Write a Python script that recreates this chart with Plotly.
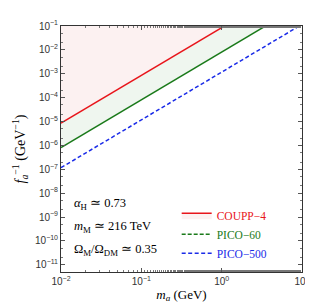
import plotly.graph_objects as go

# ---- data ----
m_a = [0.01, 10.0]                 # GeV
coupp4 = [8.5e-6, 8.5]             # f_a^-1 (GeV^-1)
pico60 = [8.1e-7, 0.81]
pico500 = [1.17e-7, 0.117]
top_edge = [10.0, 10.0]

x_tickvals = [1e-2, 1e-1, 1e0, 1e1]
x_ticktext = ["10<sup>−2</sup>", "10<sup>−1</sup>", "10<sup>0</sup>", "10<sup>1</sup>"]
y_exps = list(range(-11, 0))
y_tickvals = [10.0 ** e for e in y_exps]
y_ticktext = ["10<sup>−%d</sup>" % (-e) for e in y_exps]

labels = ["COUPP−4", "PICO−60", "PICO−500"]
colors = ["#e8151b", "#1a7a1a", "#1a2be8"]

annot_lines = [
    "<i>α</i><sub>H</sub> ≃ 0.73",
    "<i>m</i><sub>M</sub> ≃ 216 TeV",
    "Ω<sub>M</sub>/Ω<sub>DM</sub> ≃ 0.35",
]

serif = "Liberation Serif"
sans = "Liberation Sans"

fig = go.Figure()
fig.add_trace(go.Scatter(x=m_a, y=top_edge, mode="lines", line=dict(width=0),
                         showlegend=False, hoverinfo="skip"))
fig.add_trace(go.Scatter(x=m_a, y=coupp4, mode="lines", fill="tonexty",
                         fillcolor="rgba(245,215,215,0.35)",
                         line=dict(color=colors[0], width=1.5),
                         name='<span style="color:%s">%s</span>' % (colors[0], labels[0])))
fig.add_trace(go.Scatter(x=m_a, y=pico60, mode="lines", fill="tonexty",
                         fillcolor="rgba(210,230,210,0.35)",
                         line=dict(color=colors[1], width=1.5), showlegend=False))
fig.add_trace(go.Scatter(x=[None], y=[None], mode="lines",
                         line=dict(color=colors[1], width=1.5, dash="4px,2px"),
                         name='<span style="color:%s">%s</span>' % (colors[1], labels[1])))
fig.add_trace(go.Scatter(x=m_a, y=pico500, mode="lines",
                         line=dict(color=colors[2], width=1.5, dash="4px,2.5px"),
                         name='<span style="color:%s">%s</span>' % (colors[2], labels[2])))

for i, t in enumerate(annot_lines):
    fig.add_annotation(x=0.045, y=0.275 - i * 0.092, xref="paper", yref="paper",
                       text=t, showarrow=False, xanchor="left", yanchor="middle",
                       font=dict(family=serif, size=12.5, color="black"))

axis_common = dict(type="log", showgrid=False, zeroline=False, showline=True,
                   linecolor="#333", linewidth=1, mirror="ticks", ticks="inside",
                   ticklen=4, tickcolor="#555",
                   minor=dict(ticks="inside", ticklen=2, tickcolor="#777", showgrid=False),
                   tickfont=dict(family=sans, size=10, color="#333"))

fig.update_xaxes(range=[-2, 1], tickvals=x_tickvals, ticktext=x_ticktext,
                 title=dict(text="<i>m</i><sub><i>a</i></sub> (GeV)",
                            font=dict(family=serif, size=13, color="black"), standoff=3),
                 **axis_common)
fig.update_yaxes(range=[-11.3, -1], tickvals=y_tickvals, ticktext=y_ticktext,
                 title=dict(text="<i>f</i><sub><i>a</i></sub><sup>−1</sup> (GeV<sup>−1</sup>)",
                            font=dict(family=serif, size=14, color="black"), standoff=6),
                 **axis_common)

fig.update_layout(
    width=313, height=306,
    margin=dict(l=52, r=11, t=14, b=42),
    paper_bgcolor="white", plot_bgcolor="white",
    legend=dict(x=0.48, y=0.29, xanchor="left", yanchor="top", traceorder="normal",
                bgcolor="rgba(0,0,0,0)", font=dict(family=serif, size=11.5),
                tracegroupgap=0, itemwidth=30),
)

fig.write_html("out.html")
